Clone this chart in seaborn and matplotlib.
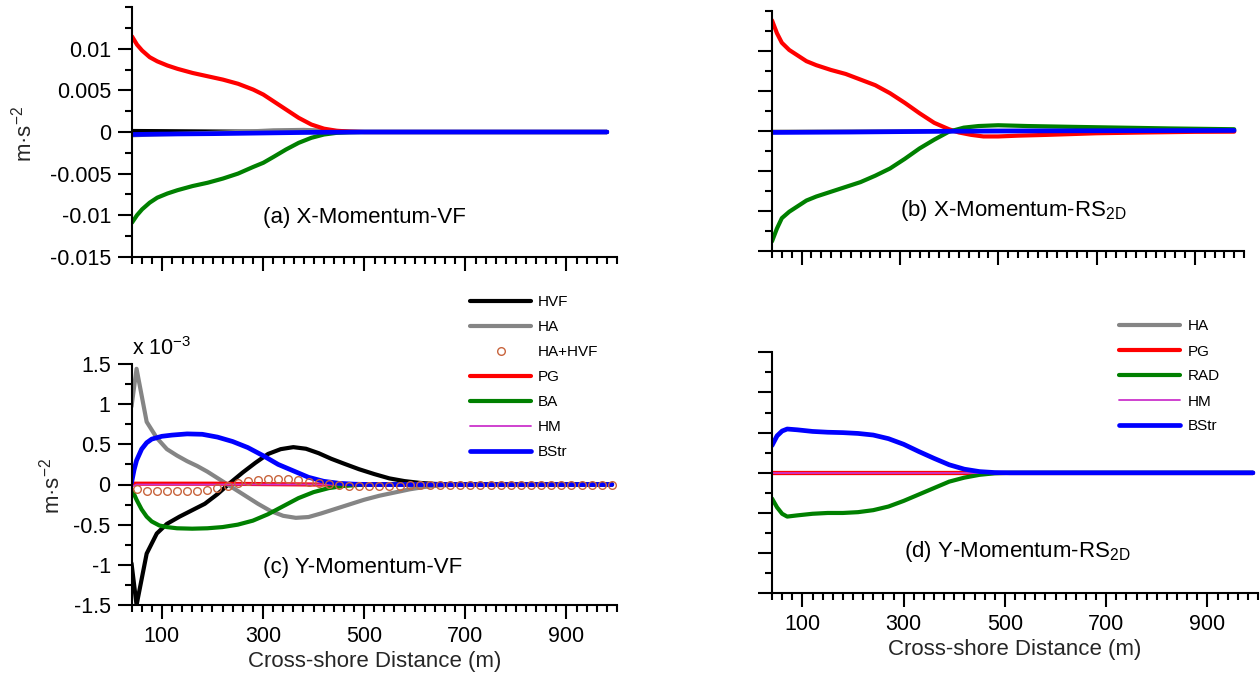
import matplotlib
matplotlib.use("Agg")
import matplotlib.pyplot as plt
from matplotlib.ticker import FixedLocator, MultipleLocator, NullFormatter
import seaborn as sns

# ---------------- (a) X-momentum, VF  [m s^-2] ----------------
a_pg_x = [40, 50, 60, 75, 90, 110, 130, 160, 190, 220, 250, 280, 300, 320, 345, 370, 395, 420, 445, 470, 500, 980]
a_pg_y = [0.0115, 0.0105, 0.0098, 0.0090, 0.0085, 0.0080, 0.0076, 0.0071, 0.0067, 0.0063, 0.0058, 0.0051,
          0.0045, 0.0037, 0.0027, 0.0017, 0.0009, 0.0004, 0.00015, 0.00005, 0.0, 0.0]
a_ba_x = a_pg_x
a_ba_y = [-0.0109, -0.0100, -0.0093, -0.0085, -0.0079, -0.0074, -0.0070, -0.0065, -0.0061, -0.0056, -0.0050,
          -0.0042, -0.0037, -0.0030, -0.0021, -0.0013, -0.0007, -0.0003, -0.0001, -0.00003, 0.0, 0.0]
a_hvf_x = [40, 100, 200, 300, 400, 980]
a_hvf_y = [0.00012, 0.0001, 0.00006, 0.00003, 0.0, 0.0]
a_ha_x = [40, 80, 150, 250, 320, 380, 430, 500, 980]
a_ha_y = [-0.0004, -0.0003, -0.0002, 0.0, 0.0002, 0.00025, 0.00015, 0.0, 0.0]
a_bstr_x = [40, 100, 200, 300, 400, 500, 980]
a_bstr_y = [-0.0003, -0.00025, -0.0002, -0.00012, -0.00004, 0.0, 0.0]

# ---------------- (b) X-momentum, RS2D  [m s^-2] ----------------
b_pg_x = [40, 50, 60, 75, 90, 110, 130, 160, 190, 220, 250, 280, 310, 340, 370, 400, 420, 445, 470, 500,
          540, 600, 700, 800, 900, 980]
b_pg_y = [0.0138, 0.0122, 0.0110, 0.0101, 0.0095, 0.0087, 0.0082, 0.0076, 0.0071, 0.0064, 0.0057, 0.0047,
          0.0035, 0.0022, 0.0010, 0.0002, -0.0002, -0.0005, -0.0007, -0.0007, -0.0006, -0.0005, -0.0003,
          -0.0002, -0.00012, -0.0001]
b_rad_x = [40, 50, 60, 75, 90, 110, 130, 160, 190, 220, 250, 280, 310, 340, 370, 400, 430, 460, 500, 560,
           650, 750, 850, 980]
b_rad_y = [-0.0138, -0.0122, -0.0109, -0.0101, -0.0095, -0.0087, -0.0082, -0.0076, -0.0070, -0.0064, -0.0056,
           -0.0047, -0.0035, -0.0022, -0.0011, -0.0001, 0.0004, 0.0006, 0.0007, 0.0006, 0.0005, 0.0004,
           0.0003, 0.0002]
b_ha_x = [40, 500, 980]
b_ha_y = [-0.0001, 0.0, 0.0]
b_hm_x = [40, 980]
b_hm_y = [0.0, 0.0]
b_bstr_x = [40, 200, 400, 600, 980]
b_bstr_y = [-0.0002, -0.00015, -0.00005, 0.0, 0.00005]

# ---------------- (c) Y-momentum, VF  [x 1e-3 m s^-2] ----------------
c_hvf_x = [40, 50, 70, 90, 110, 135, 160, 185, 210, 235, 260, 285, 310, 335, 360, 385, 410, 435, 460, 490,
           520, 550, 580, 610, 640, 670, 990]
c_hvf_y = [-0.98, -1.50, -0.86, -0.61, -0.49, -0.40, -0.32, -0.24, -0.12, 0.02, 0.15, 0.27, 0.38, 0.44,
           0.465, 0.445, 0.39, 0.32, 0.26, 0.19, 0.13, 0.076, 0.042, 0.02, 0.007, 0.0, 0.0]
c_ha_x = [40, 50, 70, 90, 110, 130, 150, 170, 190, 215, 240, 265, 290, 315, 340, 365, 390, 415, 440, 470,
          500, 530, 560, 590, 620, 650, 690, 990]
c_ha_y = [0.97, 1.44, 0.78, 0.58, 0.44, 0.36, 0.29, 0.23, 0.16, 0.06, -0.04, -0.14, -0.24, -0.33, -0.39,
          -0.415, -0.405, -0.36, -0.31, -0.25, -0.19, -0.14, -0.10, -0.06, -0.03, -0.012, 0.0, 0.0]
c_sum_x = list(range(50, 1000, 20))
c_sum_y = [-0.06, -0.08, -0.085, -0.085, -0.085, -0.085, -0.08, -0.07, -0.045, -0.015, 0.02, 0.045, 0.058,
           0.065, 0.07, 0.065, 0.05, 0.035, 0.02, 0.005, -0.01, -0.015, -0.02, -0.02, -0.02, -0.02, -0.015,
           -0.012, -0.01, -0.005, -0.003, 0.0, 0.0, 0.0, 0.0, 0.0, 0.0, 0.0, 0.0, 0.0, 0.0, 0.0, 0.0, 0.0,
           0.0, 0.0, 0.0, 0.0]
c_pg_x = [40, 200, 400, 990]
c_pg_y = [0.01, 0.01, 0.0, 0.0]
c_ba_x = [40, 45, 50, 60, 70, 80, 95, 110, 130, 160, 190, 220, 250, 280, 310, 340, 370, 400, 430, 460, 490,
          520, 990]
c_ba_y = [-0.06, -0.12, -0.19, -0.31, -0.40, -0.46, -0.51, -0.53, -0.545, -0.55, -0.545, -0.53, -0.50,
          -0.45, -0.37, -0.27, -0.17, -0.095, -0.045, -0.018, -0.005, 0.0, 0.0]
c_hm_x = [40, 50, 990]
c_hm_y = [-0.03, 0.0, 0.0]
c_bstr_x = [40, 45, 50, 60, 70, 80, 100, 120, 150, 180, 210, 240, 270, 300, 330, 360, 390, 420, 450, 480,
            510, 990]
c_bstr_y = [0.02, 0.18, 0.30, 0.44, 0.52, 0.565, 0.60, 0.615, 0.63, 0.625, 0.59, 0.535, 0.46, 0.36, 0.25,
            0.17, 0.09, 0.04, 0.015, 0.004, 0.0, 0.0]

# ---------------- (d) Y-momentum, RS2D  [x 1e-3 m s^-2] ----------------
d_x = [40, 50, 60, 70, 90, 120, 150, 180, 210, 240, 270, 300, 330, 360, 390, 420, 450, 480, 510, 990]
d_bstr_y = [0.34, 0.46, 0.52, 0.545, 0.535, 0.515, 0.505, 0.50, 0.49, 0.47, 0.425, 0.355, 0.265, 0.18,
            0.10, 0.045, 0.015, 0.003, 0.0, 0.0]
d_rad_y = [-0.32, -0.43, -0.51, -0.545, -0.53, -0.51, -0.50, -0.50, -0.49, -0.465, -0.42, -0.35, -0.27,
           -0.19, -0.11, -0.06, -0.025, -0.006, 0.0, 0.0]
d_zero_x = [40, 990]
d_ha_y = [0.0, 0.0]
d_pg_y = [0.0, 0.0]
d_hm_y = [0.0, 0.0]

# tick labels
x_major = [100, 300, 500, 700, 900]
x_major_labels = ["100", "300", "500", "700", "900"]
ya_major = [-0.015, -0.01, -0.005, 0.0, 0.005, 0.01]
ya_labels = ["-0.015", "-0.01", "-0.005", "0", "0.005", "0.01"]
yc_major = [-1.5, -1.0, -0.5, 0.0, 0.5, 1.0, 1.5]
yc_labels = ["-1.5", "-1", "-0.5", "0", "0.5", "1", "1.5"]

# ---------------- styling ----------------
sns.set_theme(style="ticks")
plt.rcParams.update({
    "font.family": ["Liberation Sans", "DejaVu Sans"],
    "mathtext.default": "regular",
    "axes.unicode_minus": False,
    "axes.linewidth": 1.5,
    "axes.edgecolor": "black",
    "xtick.color": "black",
    "ytick.color": "black",
    "text.color": "black",
})

C_HVF = "black"
C_HA = "#858585"
C_SUM = "#c8643c"
C_PG = "#ff0000"
C_BA = "#008000"
C_HM = "#cc33cc"
C_BSTR = "#0000ff"
LW = 3.0
LW_B = 3.4
LW_HM = 1.3

W, H = 1260, 677
fig = plt.figure(figsize=(W / 100, H / 100), dpi=100)


def rect(left, top, right, bottom):
    return [left / W, 1 - bottom / H, (right - left) / W, (bottom - top) / H]


ax_a = fig.add_axes(rect(132, 7.3, 617, 256.7))
ax_b = fig.add_axes(rect(772, 10.7, 1244, 251))
ax_c = fig.add_axes(rect(131.5, 364, 617, 605))
ax_d = fig.add_axes(rect(772, 352.3, 1258, 593.3))


def line(ax, x, y, color, lw, label=None, **kw):
    sns.lineplot(x=x, y=y, ax=ax, color=color, linewidth=lw, label=label,
                 sort=False, estimator=None, **kw)


def style(ax, ylim, ymaj, ylab, yminor, show_y, show_x):
    ax.set_xlim(40, 1000)
    ax.set_ylim(*ylim)
    ax.xaxis.set_major_locator(FixedLocator(x_major))
    ax.xaxis.set_minor_locator(MultipleLocator(20))
    ax.yaxis.set_major_locator(FixedLocator(ymaj))
    ax.yaxis.set_minor_locator(MultipleLocator(yminor))
    if show_x:
        ax.set_xticklabels(x_major_labels)
        ax.set_xlabel("Cross-shore Distance (m)", fontsize=16, labelpad=3)
    else:
        ax.xaxis.set_major_formatter(NullFormatter())
        ax.set_xlabel("")
    if show_y:
        ax.set_yticklabels(ylab)
    else:
        ax.yaxis.set_major_formatter(NullFormatter())
    ax.set_ylabel("")
    ax.tick_params(which="major", length=10, width=1.5, direction="out", labelsize=15.5, pad=5)
    ax.tick_params(which="minor", length=5, width=1.5, direction="out")
    sns.despine(ax=ax)
    leg = ax.get_legend()
    if leg is not None:
        leg.remove()


LEG_KW = dict(loc="upper left", bbox_transform=fig.transFigure, frameon=False, fontsize=11,
              handlelength=4.0, handletextpad=0.45, labelspacing=0.72, borderpad=0, borderaxespad=0)

# (a)
line(ax_a, a_hvf_x, a_hvf_y, C_HVF, LW)
line(ax_a, a_ha_x, a_ha_y, C_HA, LW)
line(ax_a, a_pg_x, a_pg_y, C_PG, LW)
line(ax_a, a_ba_x, a_ba_y, C_BA, LW)
line(ax_a, a_bstr_x, a_bstr_y, C_BSTR, LW_B)
style(ax_a, (-0.015, 0.015), ya_major, ya_labels, 0.0025, True, False)
ax_a.set_ylabel("m·s$^{-2}$", fontsize=16)
ax_a.yaxis.set_label_coords(-0.196, 0.494)
ax_a.text(0.27, 0.136, "(a) X-Momentum-VF", transform=ax_a.transAxes, fontsize=16, va="baseline")

# (b)
line(ax_b, b_ha_x, b_ha_y, C_HA, LW)
line(ax_b, b_hm_x, b_hm_y, C_HM, LW_HM)
line(ax_b, b_pg_x, b_pg_y, C_PG, LW)
line(ax_b, b_rad_x, b_rad_y, C_BA, LW)
line(ax_b, b_bstr_x, b_bstr_y, C_BSTR, LW_B)
style(ax_b, (-0.015, 0.015), ya_major, ya_labels, 0.0025, False, False)
ax_b.text(0.271, 0.146, "(b) X-Momentum-RS$_{2D}$", transform=ax_b.transAxes, fontsize=16, va="baseline")

# (c)
line(ax_c, c_hvf_x, c_hvf_y, C_HVF, LW, label="HVF")
line(ax_c, c_ha_x, c_ha_y, C_HA, LW, label="HA")
line(ax_c, c_pg_x, c_pg_y, C_PG, LW, label="PG")
line(ax_c, c_ba_x, c_ba_y, C_BA, LW, label="BA")
line(ax_c, c_hm_x, c_hm_y, C_HM, LW_HM, label="HM")
line(ax_c, c_bstr_x, c_bstr_y, C_BSTR, LW_B, label="BStr")
line(ax_c, c_sum_x, c_sum_y, C_SUM, 0, label="HA+HVF", marker="o", linestyle="none",
     markersize=5.5, markerfacecolor="none", markeredgecolor=C_SUM, markeredgewidth=1.0)
handles_c, labels_c = ax_c.get_legend_handles_labels()
style(ax_c, (-1.5, 1.5), yc_major, yc_labels, 0.25, True, True)
ax_c.set_ylabel("m·s$^{-2}$", fontsize=16)
ax_c.yaxis.set_label_coords(-0.139, 0.494)
ax_c.text(0.270, 0.134, "(c) Y-Momentum-VF", transform=ax_c.transAxes, fontsize=16, va="baseline")
ax_c.text(0.0, 1 + 9 / 241, "x 10$^{-3}$", transform=ax_c.transAxes, fontsize=15.5,
          va="baseline", ha="left")
order_c = ["HVF", "HA", "HA+HVF", "PG", "BA", "HM", "BStr"]
hmap = dict(zip(labels_c, handles_c))
fig.legend([hmap[k] for k in order_c], order_c,
           bbox_to_anchor=(470 / W, 1 - 295 / H), **LEG_KW)

# (d)
line(ax_d, d_zero_x, d_ha_y, C_HA, LW, label="HA")
line(ax_d, d_zero_x, d_pg_y, C_PG, LW, label="PG")
line(ax_d, d_x, d_rad_y, C_BA, LW, label="RAD")
line(ax_d, d_zero_x, d_hm_y, C_HM, LW_HM, label="HM")
line(ax_d, d_x, d_bstr_y, C_BSTR, LW_B, label="BStr")
handles_d, labels_d = ax_d.get_legend_handles_labels()
style(ax_d, (-1.5, 1.5), yc_major, yc_labels, 0.25, False, True)
ax_d.text(0.272, 0.152, "(d) Y-Momentum-RS$_{2D}$", transform=ax_d.transAxes, fontsize=16, va="baseline")
fig.legend(handles_d, labels_d,
           bbox_to_anchor=(1119.3 / W, 1 - 319.5 / H), **LEG_KW)

fig.savefig("out.png", dpi=100, facecolor="white")
